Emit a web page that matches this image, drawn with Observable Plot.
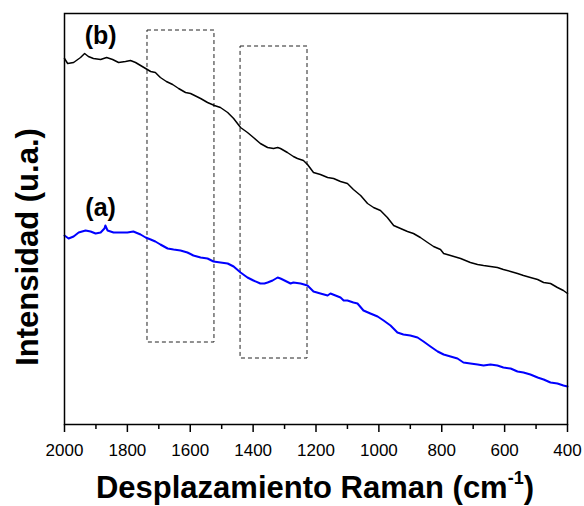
<!DOCTYPE html>
<html>
<head>
<meta charset="utf-8">
<script src="https://cdn.jsdelivr.net/npm/d3@7"></script>
<script src="https://cdn.jsdelivr.net/npm/@observablehq/plot@0.6"></script>
<style>
  html, body { margin: 0; padding: 0; background: #fff; }
  #wrap { width: 584px; height: 506px; position: relative; font-family: Arial, "Liberation Sans", sans-serif; }
  #xtitle { width: 584px; height: 36px; box-sizing: border-box; padding-left: 46px; padding-top: 3px; line-height: 30px; text-align: center; font-size: 31px; font-weight: bold; color: #000; white-space: nowrap; }
  #xtitle sup { font-size: 18px; vertical-align: 14px; line-height: 0; }
</style>
</head>
<body>
<div id="wrap">
  <div id="chart"></div>
  <div id="xtitle">Desplazamiento Raman (cm<sup>-1</sup>)</div>
</div>
<script>
// Series (b): black
const wavenumberB = [2000,1990,1971,1949,1936,1924,1908,1885,1866,1847,1828,1806,1790,1774,1758,1742,1726,1711,1695,1676,1656,1637,1615,1599,1567,1545,1523,1504,1481,1462,1440,1418,1399,1377,1354,1335,1322,1313,1291,1272,1259,1240,1227,1208,1186,1163,1144,1122,1100,1081,1058,1036,1017,995,973,953,931,909,890,868,845,826,804,794,772,740,709,686,667,645,623,604,581,559,540,518,495,476,454,432,413,400];
const intensityB  = [366,361,362,367,371,368,366,365,367,365,362,363,364,362,359,356,353,352,347,343,340,336,332,331,326,322,319,317,312,306,297,292,287,281,277,276,277,276,272,268,266,264,260,252,250,247,246,243,241,235,229,221,217,214,207,199,196,193,191,187,182,178,175,171,169,166,162,160,159,158,157,155,153,151,149,147,145,142,141,137,134,131];

// Series (a): blue
const wavenumberA = [2000,1987,1971,1955,1933,1917,1901,1885,1873,1870,1863,1844,1822,1800,1781,1758,1742,1726,1711,1695,1672,1653,1631,1609,1590,1567,1545,1526,1504,1481,1462,1440,1418,1399,1377,1364,1354,1338,1322,1313,1300,1281,1272,1249,1227,1208,1186,1163,1154,1138,1122,1112,1100,1081,1068,1049,1027,1004,985,963,941,922,900,877,858,836,813,794,772,750,731,709,686,667,645,623,604,581,559,540,518,495,476,454,432,413,400];
const intensityA  = [189,186,188,192,194,193,191,192,196,199,194,192,192,192,193,190,187,185,183,180,176,175,174,172,169,167,166,163,162,161,158,152,147,144,141,141,142,144,147,146,144,141,142,141,139,133,131,129,131,129,127,124,124,122,121,114,111,108,104,99,92,90,89,87,83,78,73,70,68,66,62,61,60,59,60,59,57,56,53,52,50,47,45,42,41,39,38];

// Dashed boxes
const boxX1 = [1736, 1440];
const boxX2 = [1523, 1227];
const boxY1 = [82, 66];
const boxY2 = [394, 378];

// Curve labels
const curveLabels = ["(b)", "(a)"];
const labelX = [1885, 1885];
const labelY = [389, 217];

// Axis ticks
const majorTicks = [2000, 1800, 1600, 1400, 1200, 1000, 800, 600, 400];
const minorTicks = [1900, 1700, 1500, 1300, 1100, 900, 700, 500];

const seriesB = wavenumberB.map((w, i) => ({w, v: intensityB[i]}));
const seriesA = wavenumberA.map((w, i) => ({w, v: intensityA[i]}));
const boxes = boxX1.map((x1, i) => ({x1, x2: boxX2[i], y1: boxY1[i], y2: boxY2[i]}));
const labels = curveLabels.map((t, i) => ({t, x: labelX[i], y: labelY[i]}));

const chart = Plot.plot({
  width: 584,
  height: 470,
  marginLeft: 64,
  marginRight: 17,
  marginTop: 13,
  marginBottom: 46,
  style: {fontFamily: 'Arial, "Liberation Sans", sans-serif', background: "#fff", color: "#000"},
  x: {domain: [2000, 400]},
  y: {domain: [0, 411], axis: null},
  marks: [
    Plot.rect(boxes, {x1: "x1", x2: "x2", y1: "y1", y2: "y2", fill: "none", stroke: "#222", strokeWidth: 1, strokeDasharray: "4,3"}),
    Plot.line(seriesA, {x: "w", y: "v", stroke: "#0000ff", strokeWidth: 2}),
    Plot.line(seriesB, {x: "w", y: "v", stroke: "#000", strokeWidth: 1.5}),
    Plot.text(labels, {x: "x", y: "y", text: "t", fontSize: 25, fontWeight: "bold", fill: "#000"}),
    Plot.axisX({ticks: minorTicks, tickSize: 5, text: null, label: null, strokeWidth: 1.5}),
    Plot.axisX({ticks: majorTicks, tickSize: 8, tickPadding: 11, tickFormat: d3.format("d"), label: null, fontSize: 17, strokeWidth: 1.5}),
    Plot.text(["Intensidad (u.a.)"], {frameAnchor: "left", textAnchor: "middle", rotate: -90, dx: -36, dy: 28, fontSize: 31, fontWeight: "bold", fill: "#000"}),
    Plot.frame({stroke: "#000", strokeWidth: 1.5})
  ]
});
document.getElementById("chart").appendChild(chart);
</script>
</body>
</html>
